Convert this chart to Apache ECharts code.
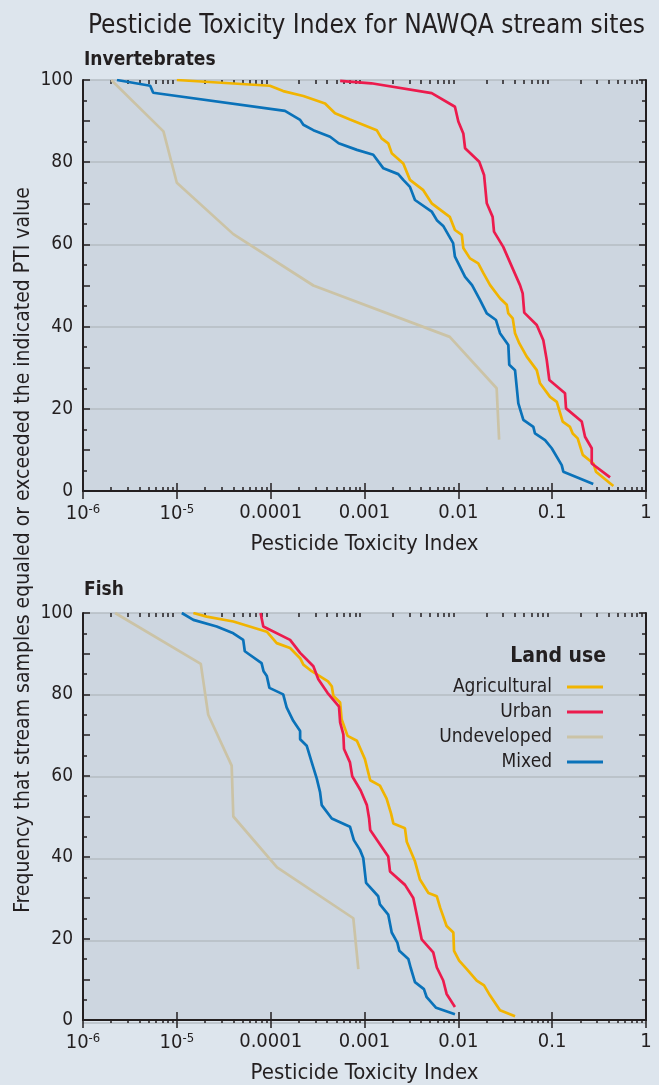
<!DOCTYPE html>
<html>
<head>
<meta charset="utf-8">
<script src="https://cdn.jsdelivr.net/npm/echarts@6/dist/echarts.min.js"></script>
<style>
html,body{margin:0;padding:0;background:#dde5ed;}
#chart{width:659px;height:1085px;}
</style>
</head>
<body>
<div id="chart"></div>
<script>
// ---- Data (PTI value, % of samples equaled or exceeded) ----
const seriesNames = ['Undeveloped', 'Mixed', 'Agricultural', 'Urban'];
const seriesColors = ['#cbc3a6', '#0a72b9', '#f1b400', '#ec1b4d'];

const invAgri = [[1.0e-5,100],[9.8e-5,98.6],[1.36e-4,97.3],[2.23e-4,96.1],[3.8e-4,94.3],[4.85e-4,91.9],[7.0e-4,90.4],[1.35e-3,87.8],[1.52e-3,85.8],[1.79e-3,84.6],[1.95e-3,82.2],[2.59e-3,79.7],[3.05e-3,75.7],[4.23e-3,73.2],[5.2e-3,70.0],[8.1e-3,66.7],[9.2e-3,63.5],[0.0109,62.3],[0.0113,59.1],[0.0133,56.6],[0.0163,55.4],[0.0185,53.0],[0.0218,50.1],[0.0278,46.9],[0.0328,45.3],[0.0341,43.2],[0.038,42.0],[0.0402,38.4],[0.0447,35.9],[0.0536,32.7],[0.0685,29.4],[0.0742,26.2],[0.0949,22.9],[0.112,21.7],[0.1295,16.9],[0.155,15.6],[0.1655,14.0],[0.187,12.8],[0.212,8.8],[0.275,6.7],[0.293,4.7],[0.449,1.2]];
const invUrban = [[5.5e-4,99.8],[1.18e-3,99.2],[5.2e-3,96.8],[9.2e-3,93.5],[0.0100,89.9],[0.0113,87.0],[0.0118,83.4],[0.0167,80.1],[0.0188,76.9],[0.0201,70.0],[0.0232,66.7],[0.0240,63.1],[0.0301,59.4],[0.0385,53.8],[0.0454,50.1],[0.0485,48.1],[0.0504,43.4],[0.0685,40.4],[0.0805,36.7],[0.0875,31.9],[0.0933,27.0],[0.137,23.8],[0.1405,20.1],[0.2065,16.9],[0.224,13.2],[0.264,10.4],[0.264,6.7],[0.414,3.3]];
const invUndev = [[2.0e-6,100],[7.2e-6,87.5],[1.0e-5,75],[4.0e-5,62.5],[2.85e-4,50],[8.1e-3,37.5],[0.0256,25],[0.0272,12.5]];
const invMixed = [[2.3e-6,100],[5.2e-6,98.6],[5.6e-6,96.9],[1.42e-4,92.5],[2.06e-4,90.3],[2.23e-4,89.1],[2.85e-4,87.8],[4.3e-4,86.2],[5.3e-4,84.6],[8.3e-4,83.0],[1.24e-3,81.8],[1.59e-3,78.5],[2.29e-3,77.1],[2.59e-3,75.7],[3.05e-3,74.0],[3.45e-3,70.8],[5.2e-3,68.0],[5.9e-3,65.9],[6.9e-3,64.5],[8.8e-3,60.3],[9.2e-3,57.0],[0.0118,52.1],[0.014,50.1],[0.0170,46.5],[0.0201,43.2],[0.0252,41.6],[0.0278,38.4],[0.0341,35.5],[0.0349,30.7],[0.0402,29.4],[0.0436,21.3],[0.0493,17.3],[0.063,15.6],[0.0656,14.0],[0.084,12.4],[0.0989,10.4],[0.1264,6.3],[0.1315,4.7],[0.274,1.7]];

const fishAgri = [[1.5e-5,100],[2.08e-5,99.1],[4.0e-5,97.9],[9.1e-5,95.4],[1.16e-4,92.6],[1.61e-4,91.4],[2.06e-4,88.9],[2.23e-4,87.3],[2.74e-4,85.7],[4.08e-4,83.2],[4.48e-4,82.0],[4.66e-4,79.6],[5.5e-4,78.0],[5.7e-4,73.9],[6.6e-4,69.8],[8.3e-4,68.6],[1.01e-3,64.1],[1.15e-3,58.9],[1.46e-3,57.6],[1.72e-3,54.4],[1.92e-3,50.7],[2.03e-3,48.3],[2.70e-3,47.1],[2.82e-3,43.8],[3.45e-3,39.0],[3.9e-3,34.5],[4.8e-3,31.2],[5.9e-3,30.4],[6.4e-3,27.6],[7.5e-3,23.1],[8.85e-3,21.5],[9.0e-3,17.0],[0.0102,14.6],[0.0123,12.5],[0.0157,9.7],[0.0188,8.5],[0.0218,6.0],[0.0278,2.4],[0.0402,0.9]];
const fishUrban = [[7.8e-5,100],[8.35e-5,96.7],[1.61e-4,93.4],[2.06e-4,90.2],[2.85e-4,86.9],[3.22e-4,83.7],[4.03e-4,80.4],[5.35e-4,77.0],[5.5e-4,73.1],[5.95e-4,70.2],[6.05e-4,66.6],[7.0e-4,63.3],[7.4e-4,59.9],[9.1e-4,56.4],[1.06e-3,52.8],[1.12e-3,49.5],[1.15e-3,46.7],[1.79e-3,40.2],[1.87e-3,36.5],[2.70e-3,33.2],[3.31e-3,30.0],[3.66e-3,25.1],[4.07e-3,19.8],[5.4e-3,16.6],[5.9e-3,12.9],[6.9e-3,9.7],[7.5e-3,6.4],[9.2e-3,3.2]];
const fishUndev = [[2.2e-6,100],[1.8e-5,87.5],[2.16e-5,75],[3.84e-5,62.5],[4.0e-5,50],[1.17e-4,37.5],[7.6e-4,25],[8.6e-4,12.5]];
const fishMixed = [[1.13e-5,100],[1.50e-5,98.3],[2.66e-5,96.7],[4.0e-5,95.0],[5.1e-5,93.4],[5.3e-5,90.6],[8.0e-5,87.7],[8.4e-5,85.7],[9.1e-5,84.5],[9.7e-5,81.6],[1.36e-4,80.0],[1.48e-4,76.8],[1.74e-4,73.5],[2.06e-4,71.0],[2.06e-4,69.0],[2.42e-4,67.4],[2.74e-4,63.3],[3.1e-4,59.3],[3.36e-4,56.0],[3.5e-4,52.8],[4.48e-4,49.5],[7.0e-4,47.5],[7.7e-4,44.2],[8.95e-4,41.8],[9.7e-4,39.8],[1.04e-3,33.7],[1.40e-3,30.4],[1.46e-3,28.4],[1.79e-3,25.9],[1.95e-3,21.5],[2.24e-3,19.0],[2.35e-3,17.0],[2.93e-3,15.0],[3.1e-3,12.9],[3.45e-3,9.3],[4.3e-3,7.6],[4.6e-3,5.6],[5.8e-3,3.0],[9.2e-3,1.4]];

const panelTitles = ['Invertebrates', 'Fish'];
const panelData = [[invUndev, invMixed, invAgri, invUrban], [fishUndev, fishMixed, fishAgri, fishUrban]];

// Tick values
const xMajor = [1e-6, 1e-5, 1e-4, 1e-3, 1e-2, 1e-1, 1];
const xMinor = [];
for (let e = -6; e < 0; e++) { for (let m = 2; m <= 9; m++) xMinor.push(m * Math.pow(10, e)); }
const xTickLabels = {'-6': '{b|10}{s|-6}', '-5': '{b|10}{s|-5}', '-4': '0.0001', '-3': '0.001', '-2': '0.01', '-1': '0.1', '0': '1'};
const yLabelTicks = [0, 20, 40, 60, 80, 100];
const yMajorTicks = [0, 10, 20, 30, 40, 50, 60, 70, 80, 90, 100];

// ---- Styling ----
const FONT = '"Liberation Sans Narrow","Nimbus Sans Narrow","DejaVu Sans Condensed","Roboto Condensed",sans-serif';
const INK = '#231f20';
const panelTop = [80, 613];
const panelH = [411, 410];

const grid = [], xAxis = [], yAxis = [], series = [];
panelTop.forEach(function (top, p) {
  grid.push({left: 83, right: 13, top: top, height: panelH[p], show: true, backgroundColor: '#cdd6e0', borderWidth: 0});
  grid.push({left: 83, right: 13, top: top, height: panelH[p], show: false});
  const g = 2 * p, go = 2 * p + 1;
  const base = {type: 'log', logBase: 10, min: 1e-6, max: 1, splitLine: {show: false}, minorTick: {show: false}, minorSplitLine: {show: false}};
  xAxis.push(Object.assign({}, base, {
    gridIndex: g, position: 'bottom',
    axisLine: {show: true, lineStyle: {color: INK, width: 2}},
    axisTick: {show: true, inside: true, length: 8, customValues: xMajor, lineStyle: {color: INK, width: 1.5}},
    axisLabel: {show: true, customValues: xMajor, margin: 12, color: INK, fontSize: 20, fontFamily: FONT,
      formatter: function (v) { return xTickLabels[String(Math.round(Math.log10(v)))] || ''; },
      rich: {b: {fontSize: 20, fontFamily: FONT, color: INK}, s: {fontSize: 13, fontFamily: FONT, color: INK, verticalAlign: 'top', padding: [0, 0, 8, 0]}}},
    name: 'Pesticide Toxicity Index', nameLocation: 'middle', nameGap: 42,
    nameTextStyle: {color: INK, fontSize: 22, fontFamily: FONT}
  }));
  xAxis.push(Object.assign({}, base, {
    gridIndex: g, position: 'top',
    axisLine: {show: true, lineStyle: {color: INK, width: 2}},
    axisTick: {show: true, inside: true, length: 8, customValues: xMajor, lineStyle: {color: INK, width: 1.5}},
    axisLabel: {show: false}
  }));
  xAxis.push(Object.assign({}, base, {
    gridIndex: go, position: 'bottom',
    axisLine: {show: false},
    axisTick: {show: true, inside: true, length: 4, customValues: xMinor, lineStyle: {color: INK, width: 1.5}},
    axisLabel: {show: false}
  }));
  xAxis.push(Object.assign({}, base, {
    gridIndex: go, position: 'top',
    axisLine: {show: false},
    axisTick: {show: true, inside: true, length: 4, customValues: xMinor, lineStyle: {color: INK, width: 1.5}},
    axisLabel: {show: false}
  }));
  const ybase = {type: 'value', min: 0, max: 100, interval: 20};
  yAxis.push(Object.assign({}, ybase, {
    gridIndex: g, position: 'left',
    axisLine: {show: true, lineStyle: {color: INK, width: 2}},
    axisTick: {show: true, inside: true, length: 7, customValues: yMajorTicks, lineStyle: {color: INK, width: 1.5}},
    minorTick: {show: true, splitNumber: 4, length: 4, lineStyle: {color: INK, width: 1.5}},
    axisLabel: {show: true, customValues: yLabelTicks, margin: 10, color: INK, fontSize: 19, fontFamily: FONT},
    splitLine: {show: false}
  }));
  yAxis.push(Object.assign({}, ybase, {
    gridIndex: g, position: 'right',
    axisLine: {show: true, lineStyle: {color: INK, width: 2}},
    axisTick: {show: true, inside: true, length: 7, customValues: yMajorTicks, lineStyle: {color: INK, width: 1.5}},
    minorTick: {show: true, splitNumber: 4, length: 4, lineStyle: {color: INK, width: 1.5}},
    axisLabel: {show: false},
    splitLine: {show: false}
  }));
  // overlay axis: only the horizontal grid lines at 20, 40, 60, 80
  yAxis.push(Object.assign({}, ybase, {
    gridIndex: go, position: 'left',
    axisLine: {show: false}, axisTick: {show: false}, axisLabel: {show: false},
    splitLine: {show: true, lineStyle: {color: '#b5bcc3', width: 1.5}}
  }));

  panelData[p].forEach(function (d, i) {
    series.push({
      name: seriesNames[i], type: 'line', data: d,
      xAxisIndex: 4 * p, yAxisIndex: 3 * p,
      symbol: 'none', color: seriesColors[i],
      lineStyle: {width: 2.7, color: seriesColors[i]},
      z: 3 + i, animation: false
    });
  });
});

const chart = echarts.init(document.getElementById('chart'), null, {renderer: 'canvas'});
chart.setOption({
  backgroundColor: '#dde5ed',
  animation: false,
  grid: grid, xAxis: xAxis, yAxis: yAxis, series: series,
  legend: {
    data: ['Agricultural', 'Urban', 'Undeveloped', 'Mixed'],
    orient: 'vertical', align: 'right', right: 56, top: 677, padding: 0,
    itemWidth: 36, itemHeight: 3, itemGap: 5, icon: 'rect',
    selectedMode: false,
    textStyle: {color: INK, fontSize: 19, fontFamily: FONT, lineHeight: 20, padding: [0, 10, 0, 0]}
  },
  graphic: [
    {type: 'text', right: 14, top: 13, style: {text: 'Pesticide Toxicity Index for NAWQA stream sites', fill: INK, font: '26px ' + FONT}},
    {type: 'text', left: 84, top: 51, style: {text: panelTitles[0], fill: INK, font: 'bold 19px ' + FONT}},
    {type: 'text', left: 84, top: 581, style: {text: panelTitles[1], fill: INK, font: 'bold 19px ' + FONT}},
    {type: 'text', x: 24, y: 550, rotation: Math.PI / 2,
      style: {text: 'Frequency that stream samples equaled or exceeded the indicated PTI value', fill: INK, font: '21px ' + FONT, align: 'center', verticalAlign: 'middle'}},
    {type: 'text', x: 606, y: 657, style: {text: 'Land use', fill: INK, font: 'bold 21px ' + FONT, align: 'right', verticalAlign: 'middle'}}
  ]
});
</script>
</body>
</html>
